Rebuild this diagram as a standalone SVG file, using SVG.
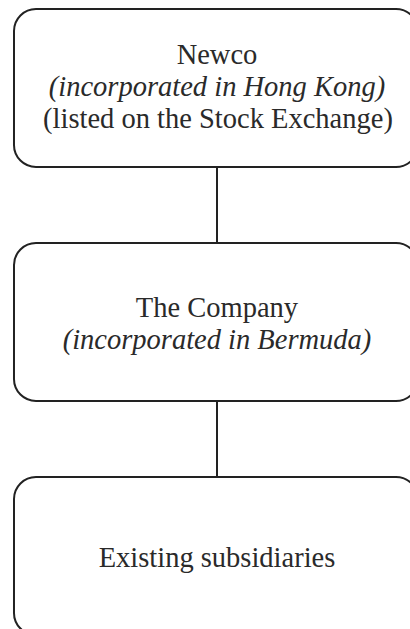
<svg xmlns="http://www.w3.org/2000/svg" width="410" height="629" viewBox="0 0 410 629">
<style>
.box{fill:#fff;stroke:#222;stroke-width:2}
.conn{stroke:#222;stroke-width:2;fill:none}
text{font-family:"Liberation Serif","Times New Roman",serif;font-size:28.5px;fill:#2a2a2a;text-anchor:middle}
.it{font-style:italic}
</style>
<rect width="410" height="629" fill="#fff"/>
<g id="connectors">
<line class="conn" x1="217" y1="167" x2="217" y2="243"/>
<line class="conn" x1="217" y1="401" x2="217" y2="477"/>
</g>
<g id="newco">
<rect class="box" x="14" y="9" width="404" height="158" rx="22"/>
<text x="217" y="64">Newco</text>
<text class="it" x="217" y="96">(incorporated in Hong Kong)</text>
<text x="218" y="128">(listed on the Stock Exchange)</text>
</g>
<g id="company">
<rect class="box" x="14" y="243" width="404" height="158" rx="22"/>
<text x="217" y="317">The Company</text>
<text class="it" x="217" y="349">(incorporated in Bermuda)</text>
</g>
<g id="subsidiaries">
<rect class="box" x="14" y="477" width="404" height="158" rx="22"/>
<text x="217" y="567">Existing subsidiaries</text>
</g>
</svg>
